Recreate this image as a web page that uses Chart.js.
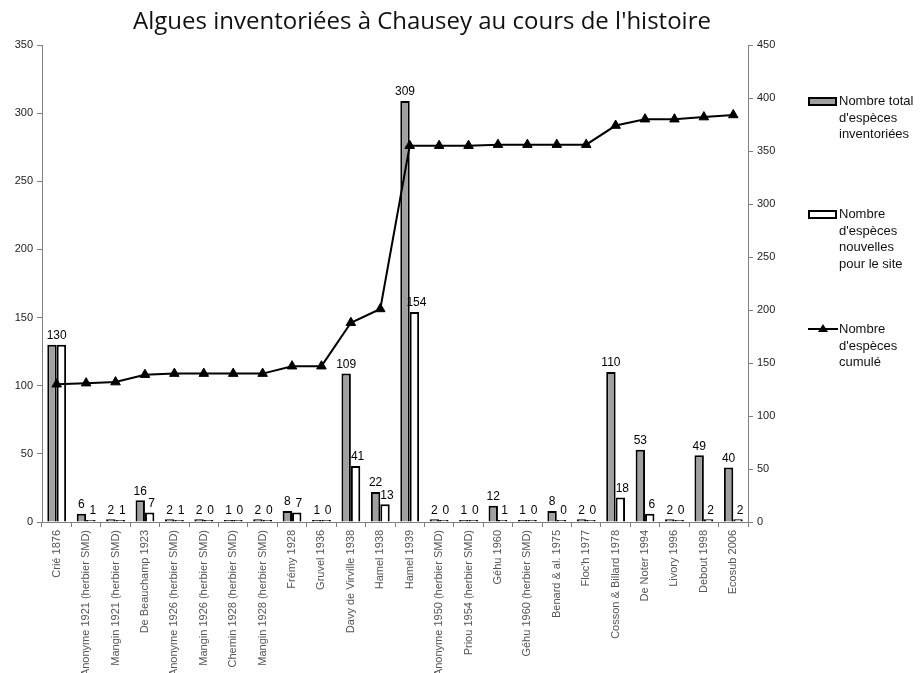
<!DOCTYPE html>
<html>
<head>
<meta charset="utf-8">
<title>Algues inventoriées à Chausey</title>
<script src="https://cdn.jsdelivr.net/npm/chart.js@4/dist/chart.umd.min.js"></script>
<style>
    html, body { margin: 0; padding: 0; background: #fff; }
    #wrap { position: relative; width: 920px; height: 673px; overflow: hidden; }
    #chart { position: absolute; left: 0; top: 0; }
    #title {
        position: absolute; left: 0; top: 3px; width: 844px;
        text-align: center; font: 24px "Open Sans", sans-serif; color: #111;
    }
    .legend-item { position: absolute; left: 808px; font: 13px "Liberation Sans", Arial, sans-serif; line-height: 16.5px; color: #111; }
    .legend-item .txt { position: absolute; left: 31px; top: 0; white-space: nowrap; }
    .swatch { position: absolute; left: 0; top: 4px; width: 29px; height: 9px; border: 2px solid #000; box-sizing: border-box; }
    .line-sw { position: absolute; left: 0; top: 7px; width: 30px; height: 2px; background: #000; }
    .tri { position: absolute; left: 10px; top: 3px; width: 0; height: 0;
        border-left: 5px solid transparent; border-right: 5px solid transparent; border-bottom: 8px solid #000; }
</style>
</head>
<body>
<div id="wrap">
    <canvas id="chart" width="920" height="673"></canvas>
    <div id="title">Algues inventoriées à Chausey au cours de l'histoire</div>
    <div class="legend-item" style="top:93px">
        <div class="swatch" style="background:#a0a0a0"></div>
        <div class="txt">Nombre total<br>d'espèces<br>inventoriées</div>
    </div>
    <div class="legend-item" style="top:206px">
        <div class="swatch" style="background:#fff"></div>
        <div class="txt">Nombre<br>d'espèces<br>nouvelles<br>pour le site</div>
    </div>
    <div class="legend-item" style="top:321px">
        <div class="line-sw"></div><div class="tri"></div>
        <div class="txt">Nombre<br>d'espèces<br>cumulé</div>
    </div>
</div>
<script>
// Données
const sources = [
    'Crié 1876', 'Anonyme 1921 (herbier SMD)', 'Mangin 1921 (herbier SMD)', 'De Beauchamp 1923',
    'Anonyme 1926 (herbier SMD)', 'Mangin 1926 (herbier SMD)', 'Chemin 1928 (herbier SMD)',
    'Mangin 1928 (herbier SMD)', 'Frémy 1928', 'Gruvel 1936', 'Davy de Virville 1938',
    'Hamel 1938', 'Hamel 1939', 'Anonyme 1950 (herbier SMD)', 'Priou 1954 (herbier SMD)',
    'Géhu 1960', 'Géhu 1960 (herbier SMD)', 'Benard & al. 1975', "Floc'h 1977",
    'Cosson & Billard 1978', 'De Noter 1994', 'Livory 1996', 'Debout 1998', 'Ecosub 2006'
];
const totalSpecies = [130, 6, 2, 16, 2, 2, 1, 2, 8, 1, 109, 22, 309, 2, 1, 12, 1, 8, 2, 110, 53, 2, 49, 40];
const newSpecies = [130, 1, 1, 7, 1, 0, 0, 0, 7, 0, 41, 13, 154, 0, 0, 1, 0, 0, 0, 18, 6, 0, 2, 2];
const cumulated = [130, 131, 132, 139, 140, 140, 140, 140, 147, 147, 188, 201, 355, 355, 355, 356, 356, 356, 356, 374, 380, 380, 382, 384];

const seriesNames = ["Nombre total d'espèces inventoriées", "Nombre d'espèces nouvelles pour le site", "Nombre d'espèces cumulé"];

const axisFont = { family: '"Liberation Sans", Arial, sans-serif', size: 11 };

// valeurs au-dessus des barres
const barLabels = {
    id: 'barLabels',
    afterDatasetsDraw(chart) {
        const ctx = chart.ctx;
        ctx.save();
        ctx.font = '12px "Liberation Sans", Arial, sans-serif';
        ctx.fillStyle = '#000';
        ctx.textAlign = 'center';
        ctx.textBaseline = 'bottom';
        const m0 = chart.getDatasetMeta(0);
        const m1 = chart.getDatasetMeta(1);
        sources.forEach((s, i) => {
            const a = m0.data[i], b = m1.data[i];
            if (totalSpecies[i] === newSpecies[i]) {
                // même valeur : une seule étiquette centrée
                ctx.fillText(String(totalSpecies[i]), (a.x + b.x) / 2, Math.min(a.y, b.y) - 3);
                return;
            }
            ctx.fillText(String(totalSpecies[i]), a.x, a.y - 3);
            ctx.fillText(String(newSpecies[i]), b.x + 2, b.y - 3);
        });
        ctx.restore();
    }
};

new Chart(document.getElementById('chart'), {
    data: {
        labels: sources,
        datasets: [
            {
                type: 'bar',
                label: seriesNames[0],
                data: totalSpecies,
                backgroundColor: '#a0a0a0',
                borderColor: '#000',
                borderWidth: 2,
                minBarLength: 2,
                yAxisID: 'y',
                order: 2,
                categoryPercentage: 0.64,
                barPercentage: 1.0
            },
            {
                type: 'bar',
                label: seriesNames[1],
                data: newSpecies,
                backgroundColor: '#fff',
                borderColor: '#000',
                borderWidth: 2,
                minBarLength: 2,
                yAxisID: 'y',
                order: 2,
                categoryPercentage: 0.64,
                barPercentage: 1.0
            },
            {
                type: 'line',
                label: seriesNames[2],
                data: cumulated,
                borderColor: '#000',
                backgroundColor: '#000',
                borderWidth: 2,
                pointStyle: 'triangle',
                pointRadius: 5.5,
                pointBorderWidth: 1,
                tension: 0,
                yAxisID: 'y1',
                order: 0
            }
        ]
    },
    options: {
        responsive: false,
        animation: false,
        layout: { padding: { top: 45, left: 0, right: 0, bottom: 0 } },
        plugins: {
            legend: { display: false },
            tooltip: { enabled: false }
        },
        scales: {
            x: {
                grid: { display: true, drawOnChartArea: false, offset: true, color: '#808080', tickLength: 5 },
                border: { color: '#808080', width: 1 },
                ticks: { font: axisFont, color: '#555', minRotation: 90, maxRotation: 90, autoSkip: false, padding: 3 },
                afterFit: (scale) => { scale.height = 151; }
            },
            y: {
                position: 'left',
                min: 0, max: 350,
                ticks: { stepSize: 50, font: axisFont, color: '#222', padding: 4 },
                grid: { display: true, drawOnChartArea: false, color: '#808080', tickLength: 5 },
                border: { color: '#808080', width: 1 },
                afterFit: (scale) => { scale.width = 42; }
            },
            y1: {
                position: 'right',
                min: 0, max: 450,
                ticks: { stepSize: 50, font: axisFont, color: '#222', padding: 4 },
                grid: { display: true, drawOnChartArea: false, color: '#808080', tickLength: 5 },
                border: { color: '#808080', width: 1 },
                afterFit: (scale) => { scale.width = 172; }
            }
        }
    },
    plugins: [barLabels]
});
</script>
</body>
</html>
